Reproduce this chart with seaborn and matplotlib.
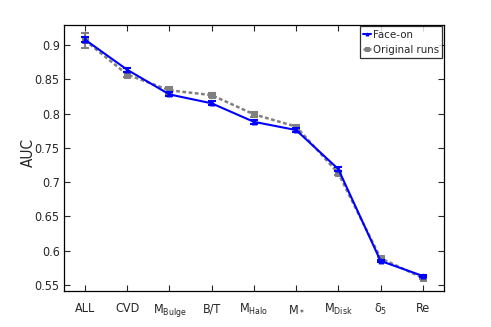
import numpy as np
import pandas as pd
import matplotlib
matplotlib.use("Agg")
import matplotlib.pyplot as plt
import seaborn as sns

# datos
labels = ["ALL", "CVD", r"M$_{\rm Bulge}$", "B/T", r"M$_{\rm Halo}$",
          r"M$_*$", r"M$_{\rm Disk}$", r"$\delta_5$", "Re"]
face_on = [0.908, 0.864, 0.828, 0.815, 0.788, 0.776, 0.719, 0.585, 0.563]
face_err = [0.004, 0.003, 0.003, 0.003, 0.003, 0.003, 0.003, 0.002, 0.002]
original = [0.907, 0.857, 0.834, 0.827, 0.799, 0.781, 0.713, 0.589, 0.560]
orig_err = [0.011, 0.004, 0.005, 0.003, 0.004, 0.003, 0.003, 0.002, 0.002]
yticks = [0.55, 0.6, 0.65, 0.7, 0.75, 0.8, 0.85, 0.9]
ytick_labels = ["0.55", "0.6", "0.65", "0.7", "0.75", "0.8", "0.85", "0.9"]

x = np.arange(1, len(labels) + 1)
df = pd.DataFrame({
    "x": np.concatenate([x, x]),
    "AUC": face_on + original,
    "run": ["Face-on"] * len(x) + ["Original runs"] * len(x),
})

sns.set_theme(style="white")
plt.rcParams["font.family"] = ["DejaVu Sans", "Liberation Sans"]
plt.rcParams["font.stretch"] = "condensed"
plt.rcParams["mathtext.fontset"] = "custom"
plt.rcParams["mathtext.rm"] = "DejaVu Sans:stretch=condensed"
plt.rcParams["mathtext.it"] = "DejaVu Sans:stretch=condensed"

fig = plt.figure(figsize=(4.91, 3.27), dpi=100)
ax = fig.add_axes([0.130, 0.110, 0.774, 0.815])

# barras de error primero, luego las lineas
ax.errorbar(x, original, yerr=orig_err, fmt="none", ecolor="#808080",
            elinewidth=1.5, capsize=3, capthick=1.5, zorder=2)
ax.errorbar(x, face_on, yerr=face_err, fmt="none", ecolor="#0000ff",
            elinewidth=1.5, capsize=3, capthick=1.5, zorder=3)

sns.lineplot(data=df[df.run == "Original runs"], x="x", y="AUC", ax=ax,
             color="#808080", lw=1.8, ls=(0, (1.5, 1)), marker="s", ms=5,
             mec="#808080", label="Original runs", zorder=2)
sns.lineplot(data=df[df.run == "Face-on"], x="x", y="AUC", ax=ax,
             color="#0000ff", lw=1.5, marker="^", ms=3.5,
             mec="#0000ff", label="Face-on", zorder=3)

ax.set_xlim(0.5, 9.5)
ax.set_ylim(0.541, 0.93)
ax.set_xticks(x)
ax.set_xticklabels(labels, fontsize=9)
ax.set_yticks(yticks)
ax.set_yticklabels(ytick_labels, fontsize=9)
ax.set_xlabel("")
ax.set_ylabel("AUC", fontsize=11)
ax.yaxis.set_label_coords(-0.074, 0.52)
ax.tick_params(direction="in", length=4, width=0.8, top=True, right=True,
               bottom=True, left=True, pad=3)
ax.tick_params(axis="x", pad=8)
for s in ax.spines.values():
    s.set_color("black")
    s.set_linewidth(0.9)

h, l = ax.get_legend_handles_labels()
leg = ax.legend(h[::-1], l[::-1], loc="upper right", fontsize=8.2, frameon=True,
                fancybox=False, edgecolor="black", borderpad=0.3,
                handlelength=0.7, handletextpad=0.15, labelspacing=0.45,
                borderaxespad=0.15, markerscale=0.6)
leg.get_frame().set_linewidth(0.9)

fig.savefig("out.png", dpi=100)
